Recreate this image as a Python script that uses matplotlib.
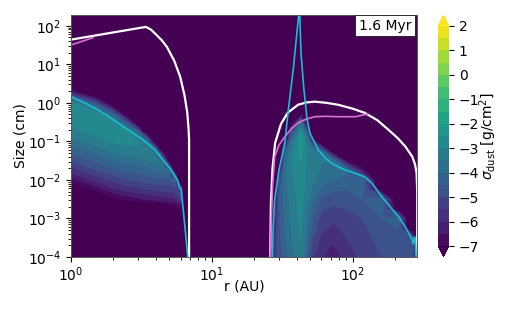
import numpy as np
import matplotlib
matplotlib.use('Agg')
import matplotlib.pyplot as plt

# log10 of grain size for each row of the table
log_size = [-4, -3.75, -3.5, -3.25, -3, -2.75, -2.5, -2.25, -2, -1.75, -1.5, -1.25,
            -1, -0.75, -0.5, -0.25, 0, 0.25, 0.5, 2.3]

# radii (AU) of the columns
radius = [1, 1.5, 2, 2.5, 3, 3.5, 4, 4.5, 5, 5.5, 6, 6.5, 6.8, 20, 26.5,
          28, 30, 33, 37, 43, 47, 52, 60, 72, 90, 117, 162, 213, 266, 285, 300]

# log10 sigma_dust, one line per radius
sigma_by_radius = [
    [-9, -9, -9, -9, -9, -9, -9, -8, -6.7, -5.75, -5, -4.3, -3.7, -3.2, -2.8, -2.6, -3, -6, -9, -9],
    [-9, -9, -9, -9, -9, -9, -8, -6.8, -5.8, -5, -4.4, -3.8, -3.2, -2.8, -2.6, -2.9, -5, -9, -9, -9],
    [-9, -9, -9, -9, -9, -9, -7.2, -6.1, -5.3, -4.6, -4, -3.4, -2.9, -2.6, -2.9, -5, -9, -9, -9, -9],
    [-9, -9, -9, -9, -9, -9, -6.8, -5.8, -5, -4.4, -3.8, -3.2, -2.8, -2.9, -5, -9, -9, -9, -9, -9],
    [-9, -9, -9, -9, -9, -8.5, -6.6, -5.6, -4.9, -4.3, -3.7, -3.1, -2.9, -4.5, -9, -9, -9, -9, -9, -9],
    [-9, -9, -9, -9, -9, -8, -6.4, -5.5, -4.7, -4.1, -3.5, -3, -4.1, -9, -9, -9, -9, -9, -9, -9],
    [-9, -9, -9, -9, -9, -8, -6.3, -5.4, -4.6, -4, -3.4, -3.9, -8.4, -9, -9, -9, -9, -9, -9, -9],
    [-9, -9, -9, -9, -9, -8, -6.2, -5.3, -4.6, -4, -3.7, -8, -9, -9, -9, -9, -9, -9, -9, -9],
    [-9, -9, -9, -9, -9, -7.6, -6.1, -5.3, -4.6, -3.7, -8, -9, -9, -9, -9, -9, -9, -9, -9, -9],
    [-9, -9, -9, -9, -9, -7.4, -6.1, -5.2, -4.2, -8, -9, -9, -9, -9, -9, -9, -9, -9, -9, -9],
    [-9, -9, -9, -9, -8.5, -7, -5.5, -5, -9, -9, -9, -9, -9, -9, -9, -9, -9, -9, -9, -9],
    [-9, -9, -8, -6.3, -8, -9, -9, -9, -9, -9, -9, -9, -9, -9, -9, -9, -9, -9, -9, -9],
    [-9, -9, -9, -9, -9, -9, -9, -9, -9, -9, -9, -9, -9, -9, -9, -9, -9, -9, -9, -9],
    [-9, -9, -9, -9, -9, -9, -9, -9, -9, -9, -9, -9, -9, -9, -9, -9, -9, -9, -9, -9],
    [-9, -9, -9, -9, -9, -9, -9, -9, -9, -9, -9, -9, -9, -9, -9, -9, -9, -9, -9, -9],
    [-5.5, -5.7, -5.8, -6, -6.2, -6.5, -7, -9, -9, -9, -9, -9, -9, -9, -9, -9, -9, -9, -9, -9],
    [-4.8, -4.7, -4.7, -4.7, -4.7, -4.6, -4.6, -4.8, -5, -7, -9, -9, -9, -9, -9, -9, -9, -9, -9, -9],
    [-4.3, -4.2, -4.1, -4, -4, -3.9, -3.8, -3.8, -3.7, -3.7, -3.9, -4.6, -7, -9, -9, -9, -9, -9, -9, -9],
    [-3.7, -3.6, -3.5, -3.45, -3.4, -3.3, -3.3, -3.2, -3.1, -3.05, -3, -3.1, -3.6, -5, -8, -9, -9, -9, -9, -9],
    [-3.1, -3.05, -3, -2.95, -2.9, -2.8, -2.8, -2.7, -2.6, -2.55, -2.5, -2.4, -2.2, -2.6, -4, -9, -9, -9, -9, -9],
    [-4.2, -4, -3.8, -3.6, -3.5, -3.4, -3.3, -3.2, -3.1, -3.05, -3, -3, -3.1, -4.5, -7.5, -9, -9, -9, -9, -9],
    [-5.5, -5.2, -5, -4.7, -4.5, -4.2, -3.9, -3.6, -3.4, -3.3, -3.2, -3.4, -6, -9, -9, -9, -9, -9, -9, -9],
    [-5.9, -5.8, -5.6, -5.4, -5.2, -4.9, -4.6, -4.1, -3.8, -3.6, -3.4, -4, -9, -9, -9, -9, -9, -9, -9, -9],
    [-6.4, -6.1, -5.8, -5.6, -5.4, -5.1, -4.8, -4.4, -4, -3.7, -3.7, -8, -9, -9, -9, -9, -9, -9, -9, -9],
    [-5.8, -5.6, -5.5, -5.4, -5.2, -5, -4.8, -4.5, -4.1, -3.9, -7, -9, -9, -9, -9, -9, -9, -9, -9, -9],
    [-5.4, -5.3, -5.2, -5.1, -5, -4.8, -4.5, -4.2, -4, -6.6, -9, -9, -9, -9, -9, -9, -9, -9, -9, -9],
    [-5, -4.9, -4.8, -4.65, -4.5, -4.2, -4.1, -8, -9, -9, -9, -9, -9, -9, -9, -9, -9, -9, -9, -9],
    [-4.9, -4.8, -4.7, -4.5, -4.3, -8, -9, -9, -9, -9, -9, -9, -9, -9, -9, -9, -9, -9, -9, -9],
    [-4.8, -4.6, -5, -9, -9, -9, -9, -9, -9, -9, -9, -9, -9, -9, -9, -9, -9, -9, -9, -9],
    [-7, -9, -9, -9, -9, -9, -9, -9, -9, -9, -9, -9, -9, -9, -9, -9, -9, -9, -9, -9],
    [-9, -9, -9, -9, -9, -9, -9, -9, -9, -9, -9, -9, -9, -9, -9, -9, -9, -9, -9, -9],
]

# max size curve, inner and outer disk
white_r_in = [1, 3.4, 3.7, 4, 4.4, 4.8, 5.4, 5.96, 6.4, 6.7, 6.85, 6.9, 6.9]
white_s_in = [1.64, 1.97, 1.9, 1.78, 1.63, 1.45, 1.1, 0.68, 0.2, -0.26, -0.7, -0.96, -4]
white_r_out = [26, 26.3, 27, 28.2, 31, 34.6, 41, 47, 54, 65, 79, 100, 122, 150, 180,
               210, 238, 266, 278, 285, 288, 288]
white_s_out = [-4, -2.6, -1.7, -1.04, -0.55, -0.26, -0.05, 0.01, 0.03, 0.0, -0.05, -0.15,
               -0.26, -0.45, -0.7, -0.92, -1.14, -1.4, -1.6, -1.82, -2.3, -4]

# fragmentation size curve
pink_r_in = [1, 1.43]
pink_s_in = [1.5, 1.69]
pink_r_out = [26, 26.5, 27, 28, 30, 33, 37, 41, 47, 54, 65, 79, 105, 127]
pink_s_out = [-4, -3, -2.2, -1.4, -1.1, -0.88, -0.66, -0.52, -0.42, -0.36, -0.35, -0.36, -0.36, -0.29]

# mass-weighted size curve
cyan_r_in = [1, 1.25, 1.6, 2, 2.5, 3.25, 3.9, 4.5, 5.1, 5.7, 5.9, 6.05, 6.2, 6.4, 6.6, 6.75]
cyan_s_in = [0.16, 0, -0.21, -0.44, -0.68, -0.96, -1.2, -1.48, -1.72, -2.0, -2.2, -2.22, -2.6, -3.1, -3.6, -4]
cyan_r_out = [27, 27.3, 28, 30, 33, 35, 38, 41.5, 42.2, 43, 45, 47.6, 50, 54, 57, 65, 72, 79,
              90, 105, 122, 137, 162, 185, 213, 240, 266, 270, 275, 278, 283]
cyan_s_out = [-4, -3.2, -2.5, -1.75, -1.04, -0.18, 0.9, 2.3, 2.3, 1.3, 0.4, -0.44, -0.8, -1.04,
              -1.22, -1.46, -1.58, -1.66, -1.75, -1.83, -1.92, -2.08, -2.44, -2.7, -2.96, -3.25,
              -3.56, -3.65, -3.48, -3.5, -4]

levels = np.arange(-7, 2.5, 0.5)
cbar_ticks = np.arange(-7, 3, 1)

fig = plt.figure(figsize=(5.18, 3.11), dpi=100)
W, H = 518., 311.
ax = fig.add_axes([71/W, 1 - 257/H, 346/W, 242/H])
cax = fig.add_axes([438/W, 1 - 257/H, 11/W, 242/H])

size = 10.**np.array(log_size)
sigma = np.array(sigma_by_radius).T
cs = ax.contourf(radius, size, sigma, levels=levels, cmap='viridis', extend='both')

ax.plot(white_r_in, 10.**np.array(white_s_in), color='white', lw=1.6)
ax.plot(white_r_out, 10.**np.array(white_s_out), color='white', lw=1.6)
ax.plot(pink_r_in, 10.**np.array(pink_s_in), color='orchid', lw=1.2)
ax.plot(pink_r_out, 10.**np.array(pink_s_out), color='orchid', lw=1.2)
ax.plot(cyan_r_in, 10.**np.array(cyan_s_in), color='#17becf', lw=1.2)
ax.plot(cyan_r_out, 10.**np.array(cyan_s_out), color='#17becf', lw=1.2)

ax.set_xscale('log')
ax.set_yscale('log')
ax.set_xlim(1, 287)
ax.set_ylim(1e-4, 190)
ax.set_xlabel('r (AU)', labelpad=-3)
ax.set_ylabel('Size (cm)', labelpad=0.5)
ax.tick_params(axis='x', pad=2.5)
ax.yaxis.set_major_locator(matplotlib.ticker.LogLocator(base=10, numticks=10))
ax.yaxis.set_minor_locator(matplotlib.ticker.LogLocator(base=10, subs=np.arange(2, 10), numticks=10))
ax.yaxis.set_minor_formatter(matplotlib.ticker.NullFormatter())
for sp in ax.spines.values():
    sp.set_linewidth(0.7)
    sp.set_color('#555555')

ax.text(0.983, 0.955, '1.6 Myr', transform=ax.transAxes, ha='right', va='center', fontsize=10,
        bbox=dict(facecolor='white', edgecolor='black', linewidth=0.5, pad=2.5))

cb = fig.colorbar(cs, cax=cax, ticks=cbar_ticks, extend='both')
cb.set_label(r'$\sigma_{\rm dust}$ [g/cm$^2$]', labelpad=-1)
cb.outline.set_visible(False)

fig.savefig('out.png', dpi=100)
